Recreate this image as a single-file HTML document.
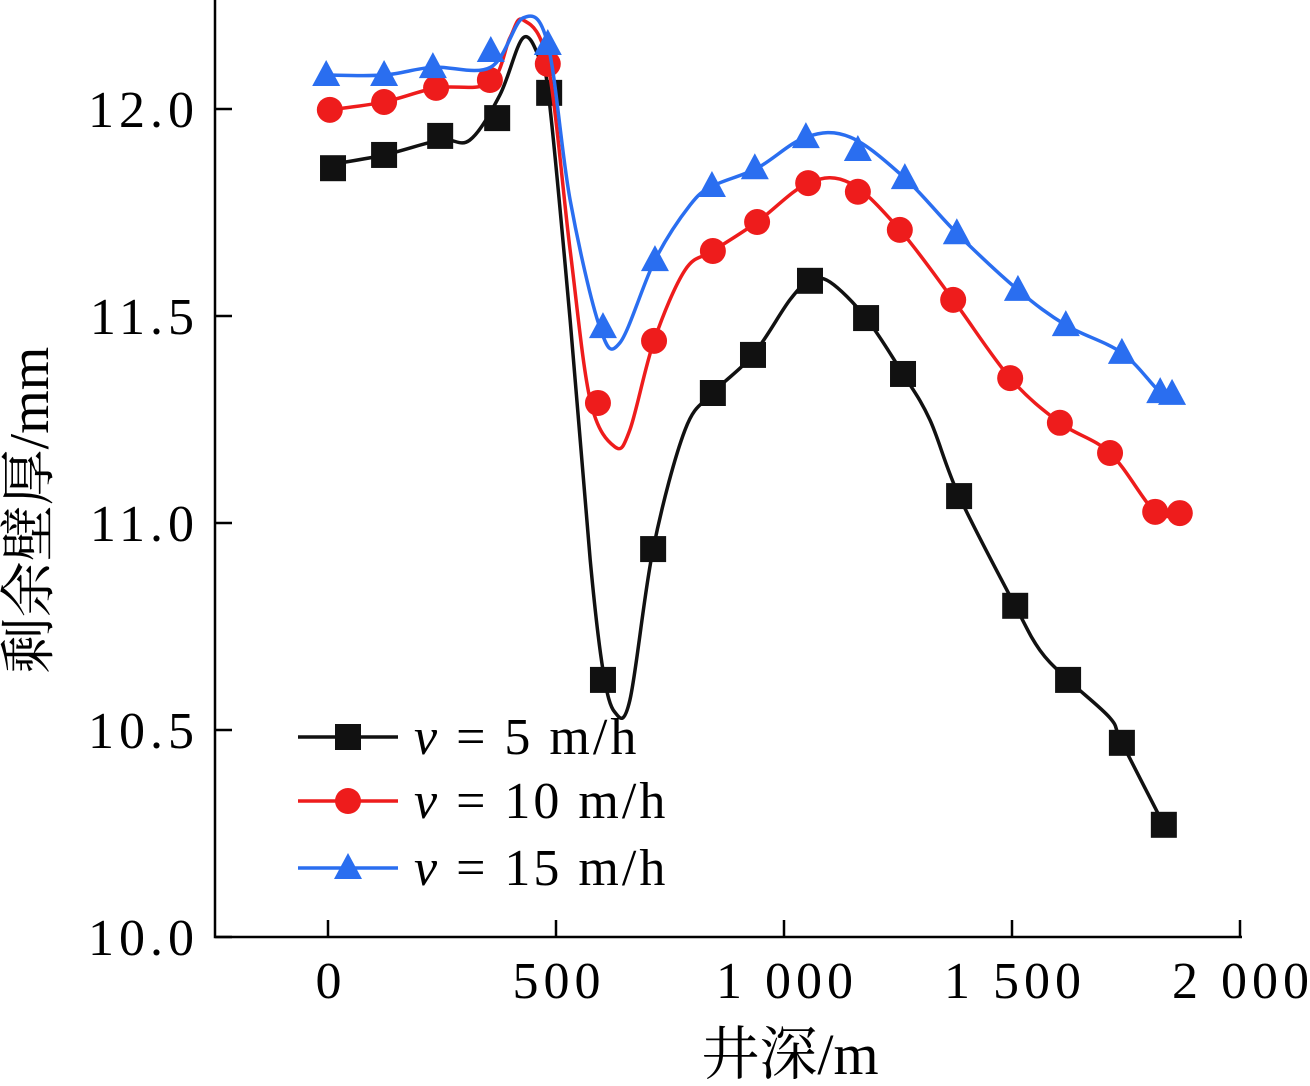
<!DOCTYPE html>
<html><head><meta charset="utf-8"><style>
html,body{margin:0;padding:0;background:#fff;}
svg{display:block;}
text{font-family:"Liberation Serif","Noto Serif CJK SC",serif;}
</style></head><body>
<svg id="chart" width="1310" height="1086" viewBox="0 0 1310 1086" xmlns="http://www.w3.org/2000/svg"></svg>
<script>
const xTicks=[0,500,1000,1500,2000];
const xTickLabels=["0","500","1 000","1 500","2 000"];
const yTicks=[10.0,10.5,11.0,11.5,12.0];
const yTickLabels=["10.0","10.5","11.0","11.5","12.0"];
const seriesNames=["v5","v10","v15"];
const legendLabels=["5 m/h","10 m/h","15 m/h"];
const colors=["#111111","#ee1c1c","#2a6ef0"];
// markers
const m5x=[11,123,246,371,485,603,713,844,932,1057,1180,1261,1384,1507,1623,1741,1833];
const m5y=[11.857,11.889,11.935,11.978,12.039,10.621,10.937,11.314,11.406,11.585,11.495,11.360,11.065,10.800,10.621,10.469,10.271];
const m10x=[4,123,237,355,482,592,715,844,941,1053,1162,1254,1371,1496,1605,1715,1814,1868];
const m10y=[11.998,12.017,12.051,12.070,12.109,11.290,11.440,11.657,11.727,11.821,11.800,11.708,11.539,11.350,11.242,11.169,11.027,11.024];
const m15x=[-4,123,230,357,482,603,717,842,936,1048,1162,1265,1379,1513,1618,1741,1825,1851];
const m15y=[12.082,12.082,12.101,12.140,12.157,11.473,11.635,11.814,11.857,11.932,11.901,11.833,11.700,11.563,11.478,11.411,11.316,11.312];
// curves
const l5x=[0,123,246,311,377,428,465,485,531,575,603,629,662,713,783,844,932,1013,1057,1101,1180,1261,1320,1384,1507,1561,1623,1715,1741,1833];
const l5y=[11.865,11.889,11.925,11.925,12.034,12.172,12.118,12.022,11.490,10.911,10.645,10.543,10.572,10.937,11.225,11.314,11.406,11.539,11.585,11.582,11.495,11.360,11.249,11.065,10.800,10.693,10.621,10.529,10.469,10.271];
const l10x=[4,123,237,355,399,428,482,531,575,629,662,715,783,844,941,1053,1145,1254,1371,1496,1605,1715,1814,1868];
const l10y=[11.998,12.017,12.051,12.063,12.172,12.215,12.109,11.659,11.297,11.184,11.225,11.440,11.611,11.657,11.727,11.821,11.821,11.708,11.539,11.350,11.242,11.169,11.027,11.024];
const l15x=[-4,123,230,357,428,482,531,596,640,717,794,844,941,1048,1145,1265,1379,1513,1618,1741,1825,1851];
const l15y=[12.082,12.082,12.101,12.101,12.220,12.157,11.780,11.473,11.435,11.635,11.768,11.814,11.857,11.932,11.932,11.833,11.700,11.563,11.478,11.411,11.316,11.312];

const NS="http://www.w3.org/2000/svg";
const svg=document.getElementById('chart');
const X=v=>328+v*0.456;
const Y=v=>937-(v-10)*414;
function mk(tag,attrs,parent){const e=document.createElementNS(NS,tag);for(const k in attrs)e.setAttribute(k,attrs[k]);(parent||svg).appendChild(e);return e;}

const axis=mk('path',{d:'M215,0 V937 H1242',fill:'none',stroke:'#000','stroke-width':2.5});


yTicks.forEach((t,i)=>{
  const ln=mk('line',{x1:215,x2:232,y1:Y(t),y2:Y(t),stroke:'#000','stroke-width':2.5});
  
  
  const tx=mk('text',{x:199,y:Y(t)+18,'text-anchor':'end','font-size':52,'letter-spacing':5});
  tx.textContent=yTickLabels[i];
  
  
});
xTicks.forEach((t,i)=>{
  const ln=mk('line',{x1:X(t),x2:X(t),y1:937,y2:920,stroke:'#000','stroke-width':2.5});
  
  
  const tx=mk('text',{x:X(t)+3,y:998,'text-anchor':'middle','font-size':52,'letter-spacing':5});
  tx.textContent=xTickLabels[i];
  
  
});
const xt=mk('text',{x:790,y:1074,'text-anchor':'middle','font-size':58});
xt.textContent='井深/m';


const yt=mk('text',{x:0,y:0,'text-anchor':'middle','font-size':56,transform:'translate(48,510) rotate(-90)'});
yt.textContent='剩余壁厚/mm';



function marker(type,cx,cy,color,parent){
  let e;
  if(type===0) e=mk('rect',{x:cx-13,y:cy-13,width:26,height:26,fill:color},parent);
  else if(type===1) e=mk('circle',{cx:cx,cy:cy,r:13,fill:color},parent);
  else e=mk('polygon',{points:`${cx},${cy-15} ${cx-14},${cy+11} ${cx+14},${cy+11}`,fill:color},parent);
  return e;
}
function smooth(pts){
  let d='M'+pts[0][0]+','+pts[0][1];
  for(let i=0;i<pts.length-1;i++){
    const p0=pts[Math.max(0,i-1)],p1=pts[i],p2=pts[i+1],p3=pts[Math.min(pts.length-1,i+2)];
    const t=0.5/3;
    d+=` C${p1[0]+(p2[0]-p0[0])*t},${p1[1]+(p2[1]-p0[1])*t} ${p2[0]-(p3[0]-p1[0])*t},${p2[1]-(p3[1]-p1[1])*t} ${p2[0]},${p2[1]}`;
  }
  return d;
}
const lines=[[l5x,l5y],[l10x,l10y],[l15x,l15y]];
const marks=[[m5x,m5y],[m10x,m10y],[m15x,m15y]];
lines.forEach((L,s)=>{
  const g=mk('g',{});
  
  
  const p=mk('path',{d:smooth(L[0].map((x,i)=>[X(x),Y(L[1][i])])),fill:'none',stroke:colors[s],'stroke-width':3.5,'stroke-linejoin':'round'},g);
  
  
  marks[s][0].forEach((x,i)=>{
    const m=marker(s,X(x),Y(marks[s][1][i]),colors[s],g);
    
    
  });
});
const legY=[737,801,868];
legendLabels.forEach((lab,s)=>{
  const g=mk('g',{});
  
  
  mk('line',{x1:298,x2:398,y1:legY[s],y2:legY[s],stroke:colors[s],'stroke-width':3.5},g);
  marker(s,348,legY[s],colors[s],g);
  const t=mk('text',{x:414,y:legY[s]+17,'font-size':52,'letter-spacing':3},g);
  const v=mk('tspan',{'font-style':'italic'},t);v.textContent='v';
  const r=mk('tspan',{},t);r.textContent=' = '+lab;
});
</script>
</body></html>
